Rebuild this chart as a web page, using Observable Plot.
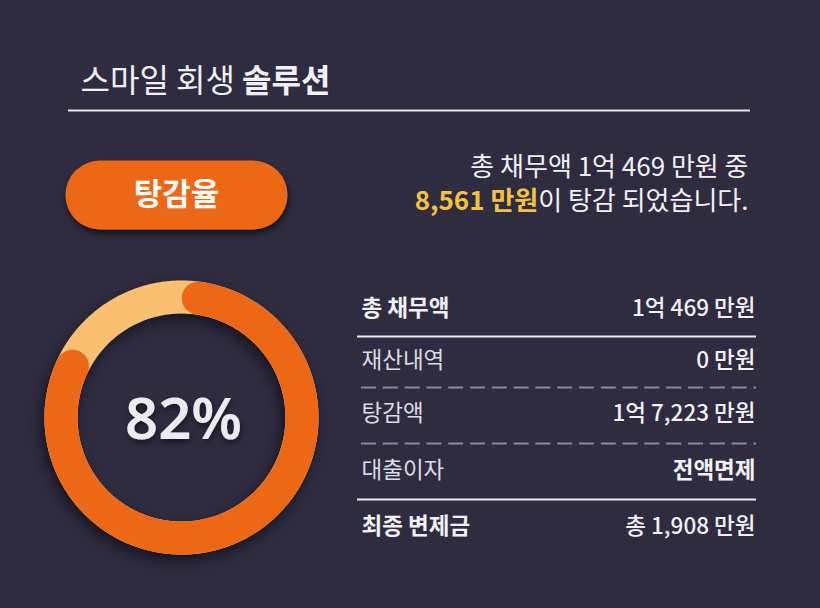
<!DOCTYPE html>
<html><head><meta charset="utf-8">
<script src="https://cdn.jsdelivr.net/npm/d3@7"></script>
<script src="https://cdn.jsdelivr.net/npm/@observablehq/plot@0.6"></script>
<style>
html,body{margin:0;padding:0;background:#2f2c41;}
#chart{width:820px;height:608px;overflow:hidden;}
</style></head><body><div id="chart"></div>
<script>
// ---------- data ----------
const titleParts = ["스마일 회생", "솔루션"];
const buttonLabel = ["탕감율"];
const summaryLine1 = ["총 채무액 1억 469 만원 중"];
const summaryHighlight = ["8,561 만원"];
const summaryRest = ["이 탕감 되었습니다."];
const reductionRate = [82];
const rowLabels = ["총 채무액", "재산내역", "탕감액", "대출이자", "최종 변제금"];
const rowValues = ["1억 469 만원", "0 만원", "1억 7,223 만원", "전액면제", "총 1,908 만원"];

// ---------- layout / style ----------
const W = 820, H = 608;
const FONT = '"Noto Sans CJK KR", "Noto Sans", sans-serif';
const BG = "#2f2c41", WHITE = "#f1f1f5", ORANGE = "#ec6815", LIGHT = "#f8c070", YELLOW = "#f6c23e";
const ctx = document.createElement("canvas").getContext("2d");
function tw(str, size, weight) { ctx.font = `${weight} ${size}px "Noto Sans CJK KR"`; return ctx.measureText(str).width; }

const title = {x: 80, y: 81, size: 32};
const titleRule = {x1: 68, x2: 750, y: 110};
const btn = {x1: 65, x2: 287, y: 194.5, h: 69, size: 31};
const summ = {right: 748, y1: 167, y2: 201, size: 26};
const donut = {cx: 181, cy: 417, r: 120.5, w: 33, capDeg: 8};
const table = {left: 361, right: 755, rowY: [308, 360, 413, 470, 526], size: 22.5,
  labelWeight: [700, 400, 400, 400, 700], valueWeight: [500, 500, 500, 700, 500],
  labelFill: [WHITE, "#dcdce4", "#dcdce4", "#dcdce4", WHITE],
  sepY: [336, 387, 443, 499], sepDashed: [false, true, true, false]};

// title pieces
const t1w = tw(titleParts[0] + " ", title.size, 400);
const titleData = [
  {x: title.x, y: title.y, text: titleParts[0]},
  {x: title.x + t1w, y: title.y, text: titleParts[1]}
];
// summary
const restW = tw(summaryRest[0], summ.size, 400);

// donut geometry
const pt = (deg) => { const a = deg * Math.PI / 180; return {x: donut.cx + donut.r * Math.sin(a), y: donut.cy - donut.r * Math.cos(a)}; };
const ringPts = d3.range(0, 361, 1).map(pt);
const endDeg = 360 * reductionRate[0] / 100;
const arcPts = d3.range(donut.capDeg, endDeg, 0.5).map(pt).concat([pt(endDeg)]);

const rows = rowLabels.map((l, i) => ({label: l, value: rowValues[i], y: table.rowY[i]}));
const seps = table.sepY.map((y, i) => ({y, dashed: table.sepDashed[i]}));

const chart = Plot.plot({
  width: W, height: H, margin: 0,
  x: {domain: [0, W], range: [0, W], axis: null},
  y: {domain: [0, H], range: [0, H], axis: null},
  style: {background: BG, fontFamily: FONT},
  marks: [
    // title
    Plot.text(titleData.slice(0, 1), {x: "x", y: "y", text: "text", textAnchor: "start", fontSize: title.size, fontWeight: 400, fill: WHITE, fontFamily: FONT}),
    Plot.text(titleData.slice(1), {x: "x", y: "y", text: "text", textAnchor: "start", fontSize: title.size, fontWeight: 700, fill: WHITE, fontFamily: FONT}),
    Plot.ruleY([titleRule.y], {x1: titleRule.x1, x2: titleRule.x2, stroke: "#e6e6ec", strokeWidth: 2}),
    // button
    Plot.line([{x: btn.x1 + btn.h / 2, y: btn.y}, {x: btn.x2 - btn.h / 2, y: btn.y}], {x: "x", y: "y", stroke: ORANGE, strokeWidth: btn.h, strokeLinecap: "round", ariaDescription: "button"}),
    Plot.text(buttonLabel, {x: () => (btn.x1 + btn.x2) / 2, y: () => btn.y, text: d => d, fontSize: btn.size, fontWeight: 700, fill: "#ffffff", fontFamily: FONT}),
    // summary
    Plot.text(summaryLine1, {x: () => summ.right, y: () => summ.y1, text: d => d, textAnchor: "end", fontSize: summ.size, fontWeight: 400, fill: WHITE, fontFamily: FONT}),
    Plot.text(summaryRest, {x: () => summ.right, y: () => summ.y2, text: d => d, textAnchor: "end", fontSize: summ.size, fontWeight: 400, fill: WHITE, fontFamily: FONT}),
    Plot.text(summaryHighlight, {x: () => summ.right - restW, y: () => summ.y2, text: d => d, textAnchor: "end", fontSize: summ.size, fontWeight: 700, fill: YELLOW, fontFamily: FONT}),
    // donut
    Plot.line(ringPts, {x: "x", y: "y", stroke: LIGHT, strokeWidth: donut.w, strokeLinecap: "round", ariaDescription: "ring"}),
    Plot.line(arcPts, {x: "x", y: "y", stroke: ORANGE, strokeWidth: donut.w, strokeLinecap: "round", ariaDescription: "arc"}),
    Plot.text(reductionRate, {x: () => donut.cx + 2, y: () => donut.cy + 3, text: d => d + "%", fontSize: 58, fontWeight: 600, fill: "#ececf0", fontFamily: '"Noto Sans", "Open Sans", sans-serif', ariaDescription: "pct"}),
    // table
    ...rows.map((r, i) => Plot.text([r], {x: () => table.left, y: "y", text: "label", textAnchor: "start", fontSize: table.size, fontWeight: table.labelWeight[i], fill: table.labelFill[i], fontFamily: FONT})),
    ...rows.map((r, i) => Plot.text([r], {x: () => table.right, y: "y", text: "value", textAnchor: "end", fontSize: table.size, fontWeight: table.valueWeight[i], fill: WHITE, fontFamily: FONT})),
    Plot.ruleY(seps.filter(d => !d.dashed), {y: "y", x1: 357, x2: 756, stroke: "#ececf2", strokeWidth: 2}),
    Plot.ruleY(seps.filter(d => d.dashed), {y: "y", x1: 361, x2: 756, stroke: "#8c8a99", strokeWidth: 2, strokeDasharray: "15,6.8"})
  ]
});

document.getElementById("chart").appendChild(chart);

// shadows (user-space filter regions so zero-height paths still render)
const svg = d3.select(chart);
const defs = svg.insert("defs", ":first-child");
function addShadow(id, dx, dy, sd, op) {
  defs.append("filter").attr("id", id).attr("filterUnits", "userSpaceOnUse")
    .attr("x", 0).attr("y", 0).attr("width", W).attr("height", H)
    .append("feDropShadow").attr("dx", dx).attr("dy", dy).attr("stdDeviation", sd).attr("flood-color", "#000").attr("flood-opacity", op);
}
addShadow("shBtn", 1, 4, 3, 0.6);
addShadow("shDonut", -3, 6, 7, 0.55);
addShadow("shPct", 1, 3, 3, 0.55);
svg.selectAll('g[aria-description="button"]').attr("filter", "url(#shBtn)");
svg.selectAll('g[aria-description="pct"]').attr("filter", "url(#shPct)");
const ringG = svg.select('g[aria-description="ring"]').node();
const arcG = svg.select('g[aria-description="arc"]').node();
if (ringG && arcG) {
  const wrap = document.createElementNS("http://www.w3.org/2000/svg", "g");
  wrap.setAttribute("filter", "url(#shDonut)");
  ringG.parentNode.insertBefore(wrap, ringG);
  wrap.appendChild(ringG); wrap.appendChild(arcG);
}
</script></body></html>
